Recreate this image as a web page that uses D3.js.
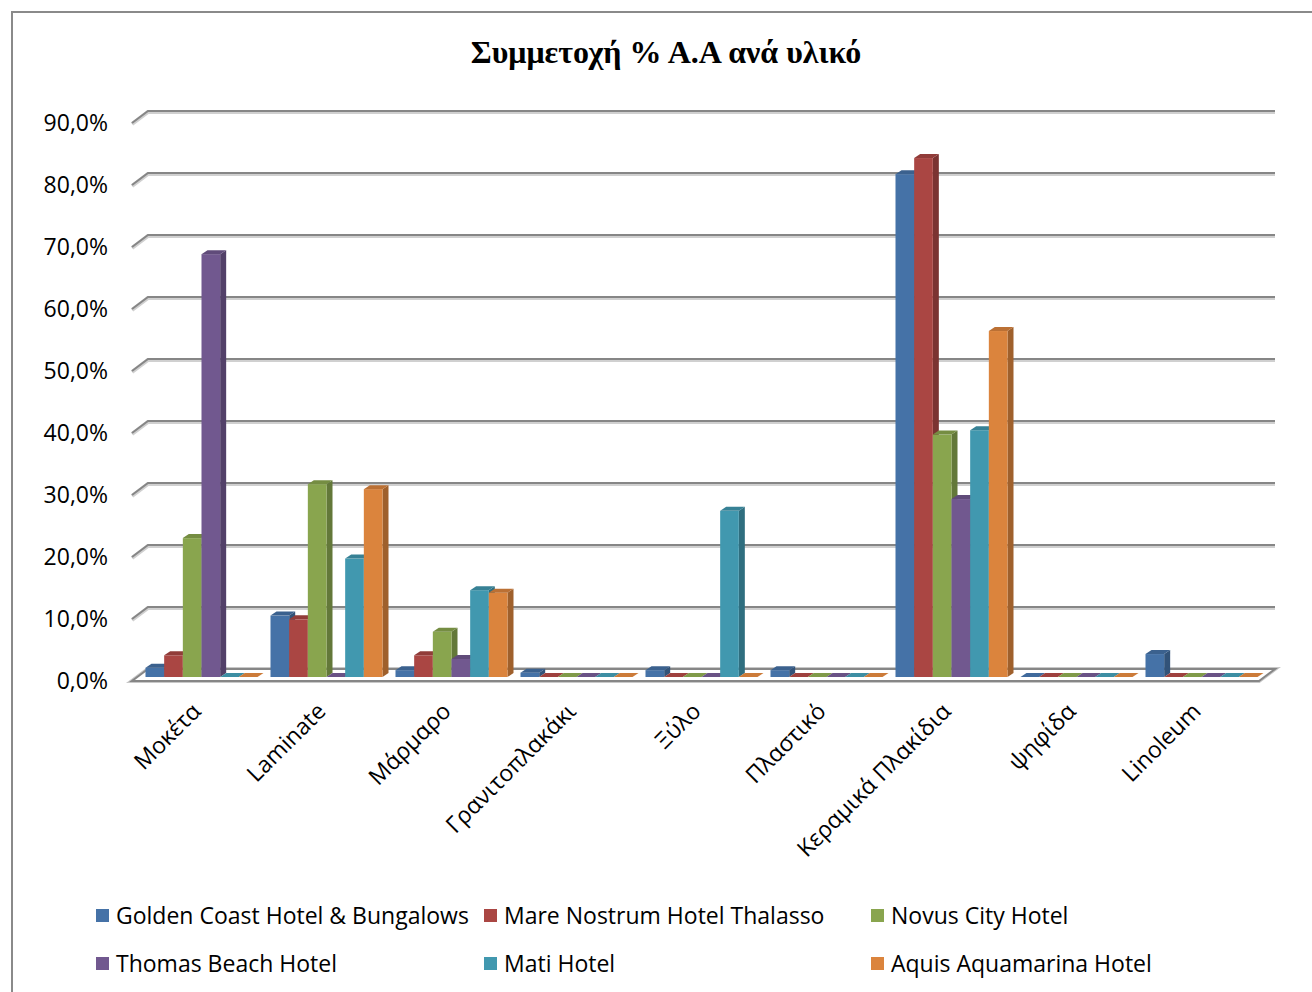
<!DOCTYPE html>
<html><head><meta charset="utf-8">
<script src="https://cdn.jsdelivr.net/npm/d3@7"></script>
<style>html,body{margin:0;padding:0;background:#fff;overflow:hidden}</style>
</head><body>
<svg id="c" width="1312" height="992"></svg>
<script>
const categories = ["Μοκέτα","Laminate","Μάρμαρο","Γρανιτοπλακάκι","Ξύλο","Πλαστικό","Κεραμικά Πλακίδια","ψηφίδα","Linoleum"];
const seriesNames = ["Golden Coast Hotel & Bungalows","Mare Nostrum Hotel Thalasso","Novus City Hotel","Thomas Beach Hotel","Mati Hotel","Aquis Aquamarina Hotel"];
const goldenCoast   = [1.5, 9.9, 1.1, 0.7, 1.1, 1.1, 81.1, 0, 3.7];
const mareNostrum   = [3.5, 9.3, 3.5, 0, 0, 0, 83.7, 0, 0];
const novusCity     = [22.4, 31.1, 7.3, 0, 0, 0, 39.1, 0, 0];
const thomasBeach   = [68.2, 0, 2.9, 0, 0, 0, 28.7, 0, 0];
const matiHotel     = [0, 19.1, 14.0, 0, 26.8, 0, 39.8, 0, 0];
const aquisAquamarina = [0, 30.3, 13.6, 0, 0, 0, 55.8, 0, 0];
const yTicks = [0,10,20,30,40,50,60,70,80,90];
const title = "Συμμετοχή % Α.Α ανά υλικό";

const seriesValues = [goldenCoast, mareNostrum, novusCity, thomasBeach, matiHotel, aquisAquamarina];
const front = ["#4572A7","#AA4643","#89A54E","#71588F","#4198AF","#DB843D"];

const svg = d3.select("#c");
const fontSans = "'Open Sans', 'Noto Sans', sans-serif";

// border
svg.append("rect").attr("x",12).attr("y",12).attr("width",1320).attr("height",1000)
  .attr("fill","#fff").attr("stroke","#8a8a8a").attr("stroke-width",2);

// title
svg.append("text").attr("x",666).attr("y",63).attr("text-anchor","middle")
  .attr("font-family","'Liberation Serif','Times New Roman',serif").attr("font-weight","bold")
  .attr("font-size",32).attr("fill","#000").text(title);

// back wall geometry
const backX0 = 148, backX1 = 1275;
const yBack = d3.scaleLinear().domain([0,90]).range([669,111]);
const depthDX = -16, depthDY = 12;

// gridlines
const grid = svg.append("g");
yTicks.forEach(t => {
  const y = yBack(t);
  if (t > 0) {
    grid.append("polyline")
      .attr("points", `${backX0+depthDX},${y+depthDY} ${backX0},${y} ${backX1},${y}`)
      .attr("fill","none").attr("stroke","#d0d0d0").attr("stroke-width",4).attr("transform","translate(0,1)");
    grid.append("polyline")
      .attr("points", `${backX0+depthDX},${y+depthDY} ${backX0},${y} ${backX1},${y}`)
      .attr("fill","none").attr("stroke","#868686").attr("stroke-width",2);
  }
});
// floor
const y0 = yBack(0);
svg.append("polygon")
  .attr("points", `${backX0},${y0} ${backX1},${y0} ${backX1+depthDX},${y0+depthDY} ${backX0+depthDX},${y0+depthDY}`)
  .attr("fill","#fff").attr("stroke","#c8c8c8").attr("stroke-width",4);
svg.append("polygon")
  .attr("points", `${backX0},${y0} ${backX1},${y0} ${backX1+depthDX},${y0+depthDY} ${backX0+depthDX},${y0+depthDY}`)
  .attr("fill","#fff").attr("stroke","#868686").attr("stroke-width",2);

// y labels
svg.append("g").selectAll("text").data(yTicks).join("text")
  .attr("x",108).attr("y",d => yBack(d)+depthDY).attr("dy","0.36em")
  .attr("text-anchor","end").attr("font-family",fontSans).attr("font-size",23).attr("fill","#000")
  .text(d => d3.format(".1f")(d).replace(".",",") + "%");

// bars
const x0 = d3.scaleBand().domain(categories).range([139,1264]).paddingInner(0).paddingOuter(0);
const groupW = 112;
const x1 = d3.scaleBand().domain(d3.range(seriesNames.length)).range([0,groupW]);
const yBar = d3.scaleLinear().domain([0,90]).range([677,677-90*6.2]);
const bdx = 6, bdy = -4;
const bars = svg.append("g");
categories.forEach((cat, ci) => {
  seriesValues.forEach((vals, si) => {
    const v = vals[ci];
    const xl = x0(cat) + (x0.bandwidth()-groupW)/2 + x1(si);
    const w = x1.bandwidth();
    const xr = xl + w;
    const yt = yBar(v), yb = yBar(0);
    const c = d3.color(front[si]);
    const side = c.darker(0.9).formatHex();
    const top = c.darker(0.45).formatHex();
    const g = bars.append("g");
    if (v > 0) {
      g.append("polygon").attr("points", `${xr},${yb} ${xr+bdx},${yb+bdy} ${xr+bdx},${yt+bdy} ${xr},${yt}`).attr("fill",side);
      g.append("rect").attr("x",xl).attr("y",yt).attr("width",w).attr("height",yb-yt).attr("fill",front[si]);
    }
    g.append("polygon").attr("points", `${xl},${yt} ${xr},${yt} ${xr+bdx},${yt+bdy} ${xl+bdx},${yt+bdy}`).attr("fill", v>0 ? top : c.darker(0.2).formatHex());
  });
});

// x labels
svg.append("g").selectAll("text").data(categories).join("text")
  .attr("transform", d => `translate(${x0(d)+x0.bandwidth()/2-5},${707}) rotate(-45)`)
  .attr("text-anchor","end").attr("dy","0.35em")
  .attr("font-family",fontSans).attr("font-size",23).attr("fill","#000").text(d => d);

// legend
const legPos = [[96,916],[484,916],[871,916],[96,964],[484,964],[871,964]];
const leg = svg.append("g");
seriesNames.forEach((n,i) => {
  const [lx,ly] = legPos[i];
  leg.append("rect").attr("x",lx).attr("y",ly-7).attr("width",13).attr("height",13).attr("fill",front[i]);
  leg.append("text").attr("x",lx+20).attr("y",ly).attr("dy","0.36em")
    .attr("font-family",fontSans).attr("font-size",23).attr("fill","#000").text(n);
});
</script>
</body></html>
